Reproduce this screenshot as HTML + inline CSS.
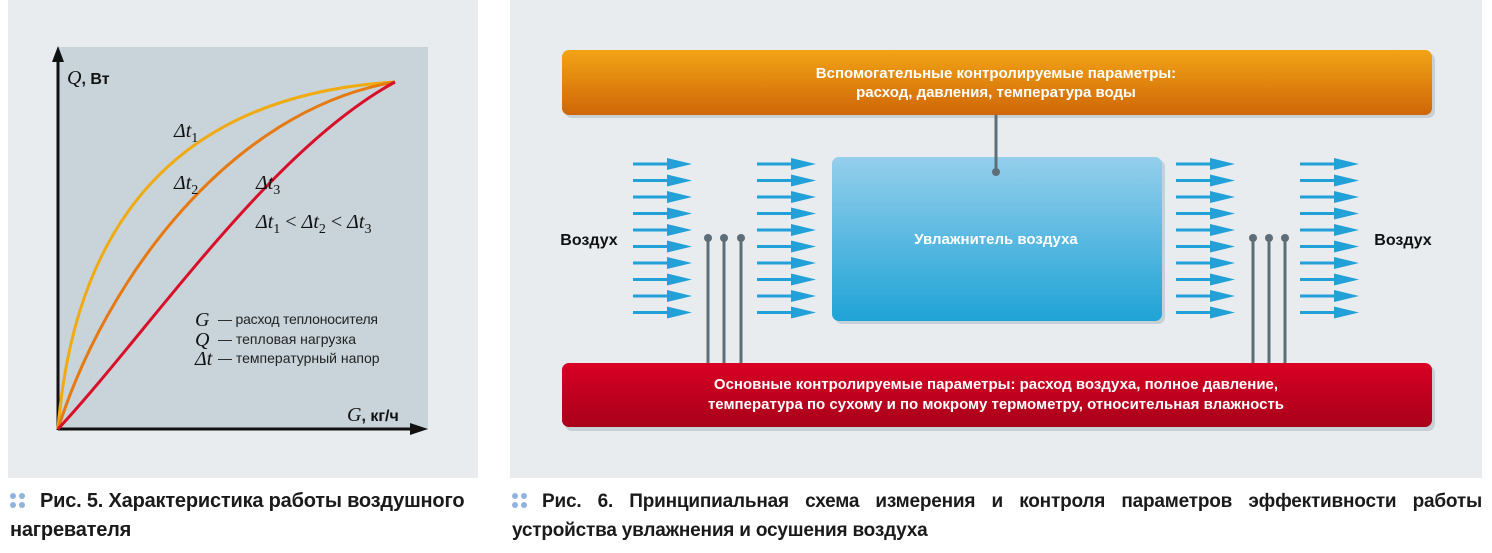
<!DOCTYPE html>
<html><head><meta charset="utf-8"><style>
body{margin:0;width:1492px;height:553px;background:#fff;position:relative;overflow:hidden;font-family:"Liberation Sans",sans-serif}
.cap{position:absolute;font-weight:bold;font-size:19px;color:#1a1a1a;line-height:29px;letter-spacing:-0.2px}
.dots{display:inline-block;width:16px;height:16px;position:relative;margin-right:14px;vertical-align:-2px}
.dots i{position:absolute;width:6px;height:6px;border-radius:50%;background:#8fb3dc}
</style></head><body>
<svg width="1492" height="480" style="position:absolute;left:0;top:0" xmlns="http://www.w3.org/2000/svg">
<defs>
<linearGradient id="og" x1="0" y1="0" x2="0" y2="1"><stop offset="0" stop-color="#f2a415"/><stop offset="1" stop-color="#cf6608"/></linearGradient>
<linearGradient id="rg" x1="0" y1="0" x2="0" y2="1"><stop offset="0" stop-color="#d90024"/><stop offset="1" stop-color="#a8001a"/></linearGradient>
<linearGradient id="bg" x1="0" y1="0" x2="0" y2="1"><stop offset="0" stop-color="#95cfec"/><stop offset="1" stop-color="#1fa3d6"/></linearGradient>
<g id="arr"><line x1="0" y1="0" x2="40" y2="0" stroke="#22a0d8" stroke-width="3"/><path d="M34,-6 L59,0 L34,6z" fill="#22a0d8"/></g>
<g id="col"><use href="#arr" y="0"/><use href="#arr" y="16.5"/><use href="#arr" y="33"/><use href="#arr" y="49.5"/><use href="#arr" y="66"/><use href="#arr" y="82.5"/><use href="#arr" y="99"/><use href="#arr" y="115.5"/><use href="#arr" y="132"/><use href="#arr" y="148.5"/></g>
</defs>
<rect x="8" y="0" width="470" height="478" fill="#e8ecef"/>
<rect x="58" y="47" width="370" height="383" fill="#c8d4da"/>
<line x1="58" y1="430" x2="58" y2="58" stroke="#111" stroke-width="3"/>
<path d="M52,62 L58,46 L64,62z" fill="#111"/>
<line x1="58" y1="429" x2="415" y2="429" stroke="#111" stroke-width="3"/>
<path d="M410,423 L428,429 L410,435z" fill="#111"/>
<path d="M58,429 C75,220 180,95 395,82" fill="none" stroke="#f0aa12" stroke-width="3"/>
<path d="M58,429 C105,280 230,110 395,82" fill="none" stroke="#e67a10" stroke-width="3"/>
<path d="M58,429 C150,330 270,150 395,82" fill="none" stroke="#d8102a" stroke-width="3"/>
<g font-family="Liberation Serif,serif" font-size="20" fill="#111">
<text x="174" y="137" font-style="italic">Δt<tspan font-size="14" dy="5" font-style="normal">1</tspan></text>
<text x="174" y="189" font-style="italic">Δt<tspan font-size="14" dy="5" font-style="normal">2</tspan></text>
<text x="256" y="189" font-style="italic">Δt<tspan font-size="14" dy="5" font-style="normal">3</tspan></text>
<text x="256" y="228" font-style="italic">Δt<tspan font-size="14" dy="5" font-style="normal">1</tspan><tspan dy="-5" font-style="normal"> &lt; </tspan>Δt<tspan font-size="14" dy="5" font-style="normal">2</tspan><tspan dy="-5" font-style="normal"> &lt; </tspan>Δt<tspan font-size="14" dy="5" font-style="normal">3</tspan></text>
<text x="195" y="309" font-style="italic" dy="17">G</text>
<text x="195" y="329" font-style="italic" dy="17">Q</text>
<text x="195" y="348" font-style="italic" dy="17">Δt</text>
<text x="67" y="84" font-style="italic">Q<tspan font-family="Liberation Sans,sans-serif" font-style="normal" font-weight="bold" font-size="16">, Вт</tspan></text>
<text x="347" y="421" font-style="italic">G<tspan font-family="Liberation Sans,sans-serif" font-style="normal" font-weight="bold" font-size="16">, кг/ч</tspan></text>
</g>
<g font-family="Liberation Sans,sans-serif" font-size="14" fill="#222">
<text x="218" y="324" textLength="160">— расход теплоносителя</text>
<text x="218" y="344">— тепловая нагрузка</text>
<text x="218" y="363">— температурный напор</text>
</g>
<rect x="510" y="0" width="972" height="478" fill="#e8ecef"/>
<rect x="565" y="53" width="870" height="65" rx="7" fill="#c6d0d6"/>
<rect x="562" y="50" width="870" height="65" rx="7" fill="url(#og)"/>
<rect x="565" y="366" width="870" height="65" rx="7" fill="#c6d0d6"/>
<rect x="562" y="363" width="870" height="64" rx="7" fill="url(#rg)"/>
<rect x="835" y="160" width="330" height="164" rx="7" fill="#c6d0d6"/>
<rect x="832" y="157" width="330" height="164" rx="7" fill="url(#bg)"/>
<line x1="996" y1="115" x2="996" y2="172" stroke="#5e6e79" stroke-width="3"/>
<circle cx="996" cy="172" r="4" fill="#5e6e79"/>
<g stroke="#5e6e79" stroke-width="3" fill="#5e6e79">
<line x1="708" y1="238" x2="708" y2="363"/><line x1="724" y1="238" x2="724" y2="363"/><line x1="741" y1="238" x2="741" y2="363"/>
<line x1="1253" y1="238" x2="1253" y2="363"/><line x1="1269" y1="238" x2="1269" y2="363"/><line x1="1285" y1="238" x2="1285" y2="363"/>
</g>
<g fill="#5e6e79"><circle cx="708" cy="238" r="4"/><circle cx="724" cy="238" r="4"/><circle cx="741" cy="238" r="4"/><circle cx="1253" cy="238" r="4"/><circle cx="1269" cy="238" r="4"/><circle cx="1285" cy="238" r="4"/></g>
<use href="#col" x="633" y="164"/><use href="#col" x="757" y="164"/><use href="#col" x="1176" y="164"/><use href="#col" x="1300" y="164"/>
<g font-family="Liberation Sans,sans-serif" font-weight="bold" font-size="15" text-anchor="middle">
<text x="996" y="78" fill="#fff">Вспомогательные контролируемые параметры:</text>
<text x="996" y="97" fill="#fff">расход, давления, температура воды</text>
<text x="996" y="244" fill="#fff">Увлажнитель воздуха</text>
<text x="996" y="389" fill="#fff">Основные контролируемые параметры: расход воздуха, полное давление,</text>
<text x="996" y="409" fill="#fff">температура по сухому и по мокрому термометру, относительная влажность</text>
<text x="589" y="245" fill="#111" font-size="16">Воздух</text>
<text x="1403" y="245" fill="#111" font-size="16">Воздух</text>
</g>
</svg>
<div class="cap" style="left:10px;top:487px;width:470px;font-size:20px"><span class="dots"><i style="left:0;top:0"></i><i style="left:9px;top:0"></i><i style="left:0;top:9px"></i><i style="left:9px;top:9px"></i></span>Рис. 5. Характеристика работы воздушного<br>нагревателя</div>
<div class="cap" style="left:512px;top:487px;width:970px;text-align:justify;text-align-last:left"><span class="dots"><i style="left:0;top:0"></i><i style="left:9px;top:0"></i><i style="left:0;top:9px"></i><i style="left:9px;top:9px"></i></span>Рис. 6. Принципиальная схема измерения и контроля параметров эффективности работы устройства увлажнения и осушения воздуха</div>
</body></html>
